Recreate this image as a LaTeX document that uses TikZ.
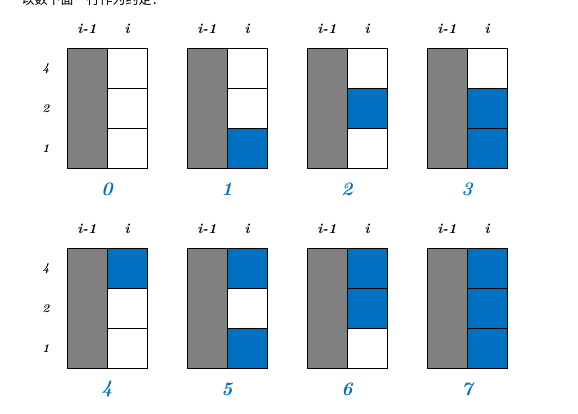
\documentclass[tikz,border=0pt]{standalone}
\usepackage{fontspec}
\newfontfamily\cjk{Noto Sans CJK SC}
\definecolor{cellblue}{HTML}{0070C0}
\definecolor{cellgray}{HTML}{808080}
\begin{document}
\begin{tikzpicture}[x=1pt,y=-1pt,
  graycol/.style={draw=black,line width=1.2pt,fill=cellgray},
  cellbox/.style={draw=black,line width=1.2pt,fill=white},
  oncell/.style={draw=black,line width=1.2pt,fill=cellblue},
  collabel/.style={font=\fontsize{14}{14}\selectfont\bfseries\itshape,text=black},
  rowlabel/.style={font=\fontsize{12}{12}\selectfont\bfseries\itshape,text=black},
  numlabel/.style={font=\fontsize{19}{19}\selectfont\bfseries\itshape,text=cellblue}]
\useasboundingbox (0,0) rectangle (578,414);
\begin{scope}
\clip (0,0) rectangle (578,414);
\node[anchor=west,font=\cjk\fontsize{13}{13}\selectfont,text=black] (title) at (18,0) {以数下面一行作为约定：};
\end{scope}
\foreach \n in {0,...,7}{
  \pgfmathtruncatemacro{\col}{mod(\n,4)}
  \pgfmathtruncatemacro{\row}{div(\n,4)}
  \pgfmathsetmacro{\x}{67+120*\col}
  \pgfmathsetmacro{\y}{48+200*\row}
  \pgfmathtruncatemacro{\bone}{mod(\n,2)}
  \pgfmathtruncatemacro{\btwo}{mod(div(\n,2),2)}
  \pgfmathtruncatemacro{\bfour}{mod(div(\n,4),2)}
  \node[graycol,minimum width=40pt,minimum height=120pt,anchor=north west,inner sep=0pt] (g\n) at (\x,\y) {};
  \ifnum\bfour=1 \def\sa{oncell}\else\def\sa{cellbox}\fi
  \ifnum\btwo=1 \def\sb{oncell}\else\def\sb{cellbox}\fi
  \ifnum\bone=1 \def\sc{oncell}\else\def\sc{cellbox}\fi
  \node[\sa,minimum width=40pt,minimum height=40pt,anchor=north west,inner sep=0pt] (c4\n) at (\x+40,\y) {};
  \node[\sb,minimum width=40pt,minimum height=40pt,anchor=north west,inner sep=0pt] (c2\n) at (\x+40,\y+40) {};
  \node[\sc,minimum width=40pt,minimum height=40pt,anchor=north west,inner sep=0pt] (c1\n) at (\x+40,\y+80) {};
  \node[collabel] (la\n) at (\x+20,\y-19) {i-1};
  \node[collabel] (lb\n) at (\x+60,\y-19) {i};
  \node[numlabel] (num\n) at (\x+40,\y+141) {\n};
  \ifnum\col=0
    \node[rowlabel] (r4\n) at (\x-21,\y+21) {4};
    \node[rowlabel] (r2\n) at (\x-21,\y+61) {2};
    \node[rowlabel] (r1\n) at (\x-21,\y+101) {1};
  \fi
}
\end{tikzpicture}
\end{document}
